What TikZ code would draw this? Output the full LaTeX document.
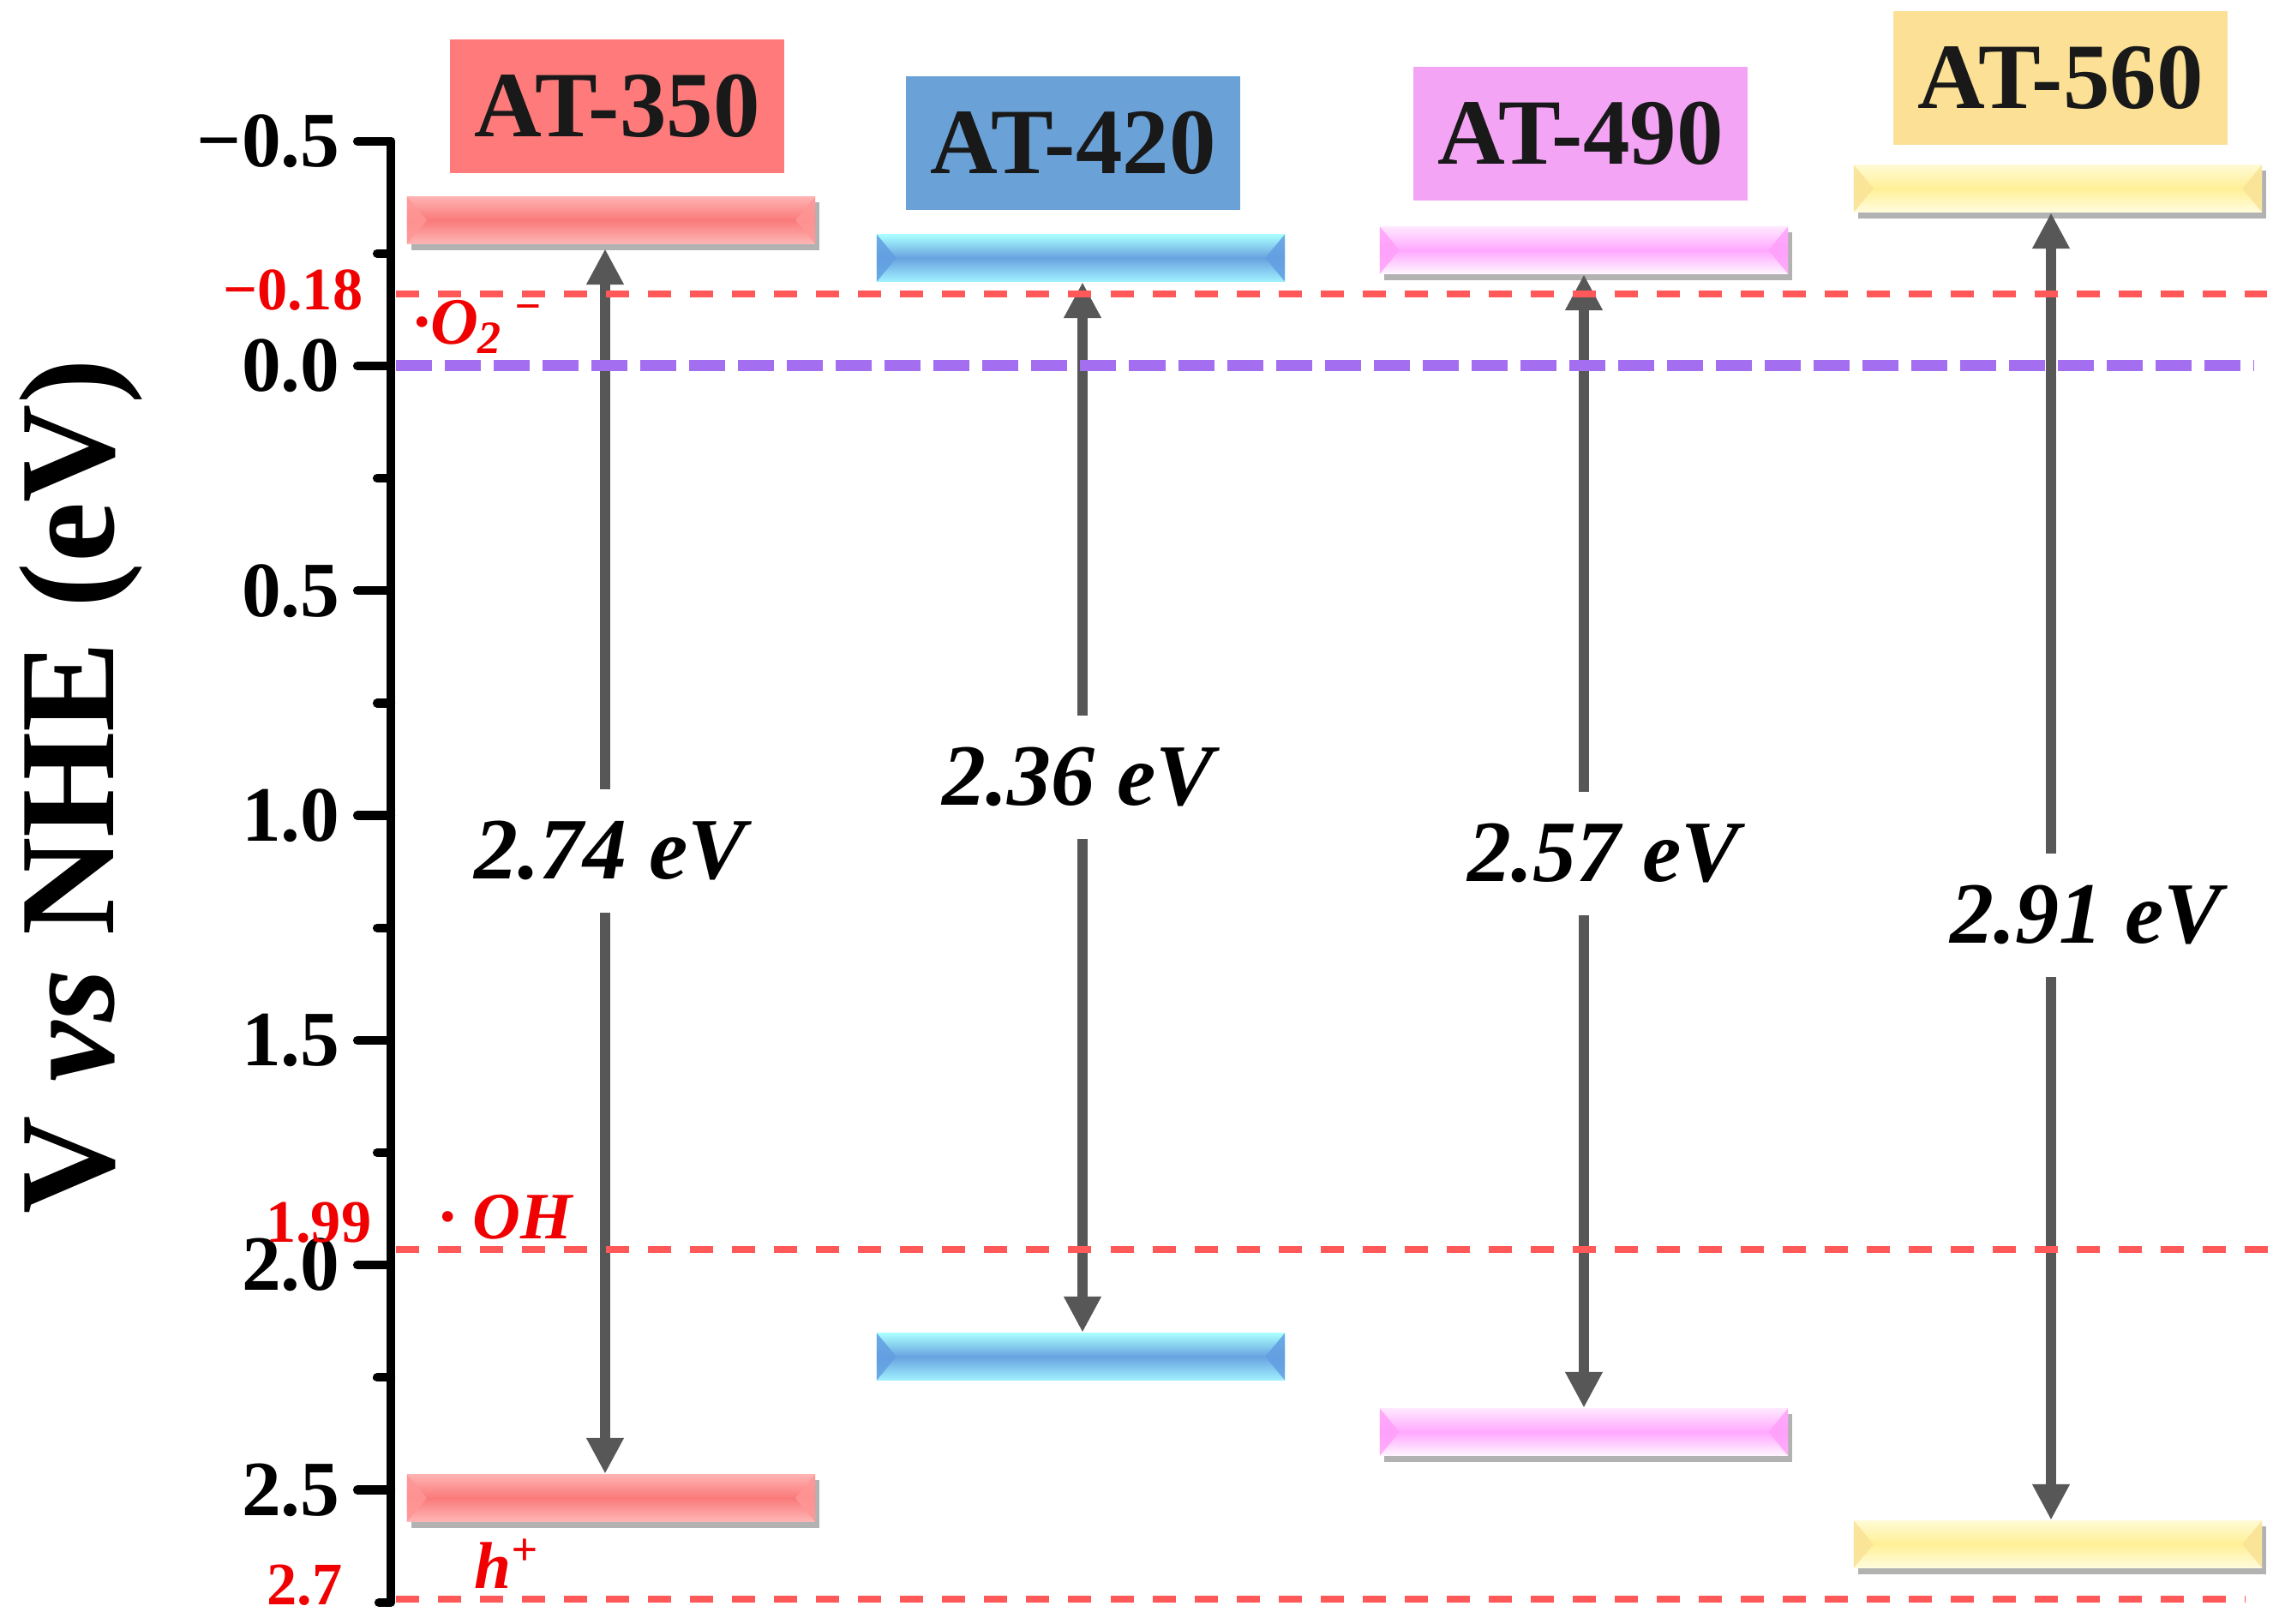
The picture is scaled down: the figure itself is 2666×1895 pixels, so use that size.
\documentclass[tikz,border=0pt]{standalone}
\usepackage{fontspec}
\setmainfont{Liberation Serif}
\usetikzlibrary{arrows.meta}
\definecolor{boxred}{RGB}{255,123,123}
\definecolor{boxblue}{RGB}{106,162,216}
\definecolor{boxpink}{RGB}{244,164,244}
\definecolor{boxyellow}{RGB}{251,224,149}
\definecolor{arrowgray}{RGB}{87,87,87}
\definecolor{dashred}{RGB}{255,88,88}
\definecolor{dashpurple}{RGB}{164,110,240}
\definecolor{labred}{RGB}{240,0,0}
% bar colours
\definecolor{barRa}{RGB}{255,178,178}\definecolor{barRb}{RGB}{250,122,122}\definecolor{barRc}{RGB}{255,182,182}\definecolor{barRd}{RGB}{255,150,150}
\definecolor{barBa}{RGB}{170,255,255}\definecolor{barBb}{RGB}{104,162,224}\definecolor{barBc}{RGB}{160,240,255}\definecolor{barBd}{RGB}{98,158,226}
\definecolor{barPa}{RGB}{255,232,255}\definecolor{barPb}{RGB}{255,168,255}\definecolor{barPc}{RGB}{255,246,255}\definecolor{barPd}{RGB}{255,160,250}
\definecolor{barYa}{RGB}{255,250,212}\definecolor{barYb}{RGB}{255,240,150}\definecolor{barYc}{RGB}{255,252,222}\definecolor{barYd}{RGB}{250,226,150}
\tikzset{
  axisline/.style={line width=2.9pt, black, line join=round},
  majtick/.style={line width=2.9pt, black, line cap=round},
  mintick/.style={line width=2.9pt, black, line cap=round},
  reddash/.style={draw=dashred, line width=2pt, dash pattern=on 0.27cm off 0.22cm},
  purpdash/.style={draw=dashpurple, line width=3.7pt, dash pattern=on 0.42cm off 0.15cm},
  gaparrow/.style={draw=arrowgray, line width=3.3pt,
    {Triangle[width=0.41cm,length=0.42cm]}-{Triangle[width=0.41cm,length=0.42cm]}},
  labelbox/.style={rectangle, inner sep=0pt, minimum width=3.9cm, minimum height=1.56cm,
    font=\fontsize{31}{36}\selectfont\bfseries, text=black!90},
  ebar/.style n args={4}{rectangle, inner sep=0pt, minimum width=4.76cm, minimum height=0.55cm,
    top color=#1, bottom color=#3, middle color=#2,
    path picture={
      \fill[fill=#4, opacity=0.85] (path picture bounding box.north west) -- ([xshift=0.23cm]path picture bounding box.west) -- (path picture bounding box.south west) -- cycle;
      \fill[fill=#4, opacity=0.85] (path picture bounding box.north east) -- ([xshift=-0.23cm]path picture bounding box.east) -- (path picture bounding box.south east) -- cycle;
    }},
  withshadow/.style={preaction={fill=black, fill opacity=0.3, transform canvas={xshift=0.05cm, yshift=-0.07cm}}},
  ticklab/.style={anchor=east, inner sep=0pt, font=\fontsize{26}{30}\selectfont\bfseries},
  redlab/.style={anchor=east, inner sep=0pt, text=labred, font=\fontsize{20}{24}\selectfont\bfseries},
  spec/.style={anchor=base west, inner sep=0pt, text=labred, font=\fontsize{22}{26}\selectfont\bfseries\itshape},
  elabel/.style={fill=white, inner xsep=0.04cm, inner ysep=0pt, minimum height=1.44cm,
    font=\fontsize{29}{34}\selectfont\bfseries\itshape},
}
\begin{document}
\begin{tikzpicture}[x=0.01cm,y=-0.01cm]
\useasboundingbox (0,0) rectangle (2666,1895);

% y-axis title
\node[rotate=90, inner sep=0pt, font=\fontsize{45}{50}\selectfont\bfseries] (ytitle) at (94,918) {V \textit{vs} NHE (eV)};

% axis
\draw[axisline] (417,165) -- (456,165) -- (456,1870);
\foreach \v/\lab [count=\i] in {-0.5/−0.5, 0/0.0, 0.5/0.5, 1/1.0, 1.5/1.5, 2/2.0, 2.5/2.5} {
  \pgfmathsetmacro\yy{427+524.6*\v}
  \draw[majtick] (417,\yy) -- (456,\yy);
  \node[ticklab] (tick\i) at (397,\yy) {\lab};
}
\foreach \v in {-0.25,0.25,0.75,1.25,1.75,2.25} {
  \pgfmathsetmacro\yy{427+524.6*\v}
  \draw[mintick] (440,\yy) -- (456,\yy);
}
\draw[mintick] (442,1870) -- (456,1870);

% red level labels
\node[redlab] (lm018) at (424,339) {−0.18};
\node[redlab] (l199) at (434,1427) {1.99};
\node[redlab] (l27) at (400,1850) {2.7};

% species labels
\node[spec] (so2) at (482,402) {·O\textsubscript{2}\,\textsuperscript{−}};
\node[spec] (soh) at (512,1445) {· OH};
\node[spec] (sh) at (553,1853) {h\textsuperscript{+}};

% sample boxes
\node[labelbox, fill=boxred] (n350) at (720,124) {AT-350};
\node[labelbox, fill=boxblue] (n420) at (1252,167) {AT-420};
\node[labelbox, fill=boxpink] (n490) at (1844,156) {AT-490};
\node[labelbox, fill=boxyellow] (n560) at (2404,91) {AT-560};

% band bars
\node[ebar={barRa}{barRb}{barRc}{barRd}, withshadow] (cb350) at (713,257) {};
\node[ebar={barRa}{barRb}{barRc}{barRd}, withshadow] (vb350) at (713,1748) {};
\node[ebar={barBa}{barBb}{barBc}{barBd}] (cb420) at (1261,301) {};
\node[ebar={barBa}{barBb}{barBc}{barBd}] (vb420) at (1261,1583) {};
\node[ebar={barPa}{barPb}{barPc}{barPd}, withshadow] (cb490) at (1848,292) {};
\node[ebar={barPa}{barPb}{barPc}{barPd}, withshadow] (vb490) at (1848,1671) {};
\node[ebar={barYa}{barYb}{barYc}{barYd}, withshadow] (cb560) at (2401,220) {};
\node[ebar={barYa}{barYb}{barYc}{barYd}, withshadow] (vb560) at (2401,1802) {};

% band gap arrows
\draw[gaparrow, shorten <=0.05cm] ([xshift=-0.07cm]cb350.south) -- ([xshift=-0.07cm]vb350.north);
\draw[gaparrow] ([xshift=0.02cm]cb420.south) -- ([xshift=0.02cm]vb420.north);
\draw[gaparrow] (cb490.south) -- (vb490.north);
\draw[gaparrow] ([xshift=-0.08cm]cb560.south) -- ([xshift=-0.08cm]vb560.north);

% band gap labels
\node[elabel] (e350) at (712,993) {2.74 eV};
\node[elabel] (e420) at (1258,907) {2.36 eV};
\node[elabel] (e490) at (1871,996) {2.57 eV};
\node[elabel] (e560) at (2434,1068) {2.91 eV};

% reference levels
\draw[reddash] (462,343) -- (2645,343);
\draw[purpdash] (462,427) -- (2630,427);
\draw[reddash] (462,1458) -- (2650,1458);
\draw[reddash] (462,1866) -- (2620,1866);
\end{tikzpicture}
\end{document}
